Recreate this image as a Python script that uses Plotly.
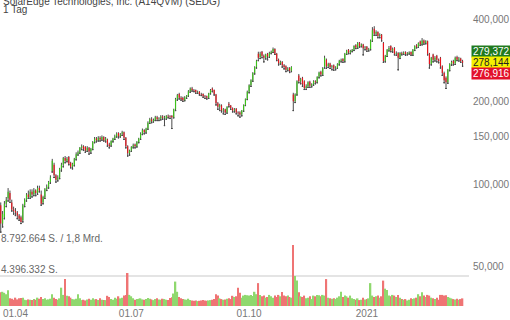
import math
import plotly.graph_objects as go

title_text = "SolarEdge Technologies, Inc. (A14QVM) (SEDG)"
period_text = "1 Tag"

# Daily OHLC in thousands
open_k = [84, 72, 76, 85, 89, 93, 86, 81, 80, 79, 77, 76, 74, 84, 88, 92, 90, 94, 92, 95,
          93, 97, 92, 86, 90, 96, 98, 102, 112, 118, 108, 104, 106, 114, 118, 125, 122, 126, 120, 116,
          118, 124, 129, 131, 136, 138, 137, 133, 136, 132, 135, 143, 147, 145, 148, 146, 149, 145, 146, 140,
          139, 144, 147, 150, 154, 150, 153, 155, 148, 138, 130, 133, 137, 140, 138, 143, 147, 153, 158, 155,
          160, 168, 173, 170, 172, 176, 173, 174, 177, 175, 174, 178, 177, 178, 176, 188, 205, 214, 207, 207,
          203, 208, 211, 219, 224, 221, 221, 217, 218, 214, 214, 210, 210, 207, 215, 224, 221, 213, 198, 192,
          194, 186, 188, 183, 197, 194, 190, 186, 189, 183, 183, 180, 186, 195, 205, 218, 230, 240, 255, 268,
          300, 292, 305, 295, 290, 300, 293, 302, 305, 312, 300, 285, 277, 280, 272, 270, 262, 266, 260, 213,
          201, 213, 250, 238, 245, 238, 225, 228, 237, 229, 232, 238, 236, 247, 258, 252, 268, 285, 270, 276,
          268, 272, 265, 267, 275, 283, 287, 282, 300, 310, 303, 307, 310, 322, 316, 329, 320, 324, 314, 318,
          310, 312, 335, 370, 355, 360, 348, 352, 328, 282, 295, 310, 320, 308, 315, 300, 302, 290, 302, 300,
          304, 299, 301, 304, 298, 310, 322, 318, 332, 325, 335, 328, 333, 300, 275, 298, 285, 295, 285, 290,
          270, 255, 245, 236, 262, 275, 282, 276, 292, 285, 288, 282]
high_k = [86, 80, 87, 90, 97, 95, 88, 83, 82, 80, 78, 77, 85, 89, 93, 95, 96, 96, 97, 96,
          99, 99, 95, 91, 97, 100, 103, 108, 124, 120, 109, 108, 115, 120, 126, 127, 126, 127, 121, 120,
          125, 131, 133, 137, 140, 139, 138, 138, 137, 136, 144, 149, 149, 150, 150, 151, 150, 149, 147, 142,
          145, 148, 152, 155, 155, 154, 157, 156, 149, 139, 134, 138, 141, 141, 144, 148, 155, 160, 159, 161,
          170, 175, 176, 174, 178, 178, 176, 179, 179, 178, 179, 180, 179, 179, 189, 207, 214, 216, 210, 209,
          210, 212, 221, 226, 227, 223, 222, 220, 219, 216, 215, 212, 211, 216, 223, 226, 222, 214, 200, 197,
          196, 190, 189, 193, 200, 195, 191, 190, 190, 185, 185, 187, 196, 206, 220, 232, 242, 257, 270, 285,
          305, 305, 307, 298, 300, 302, 305, 308, 316, 314, 302, 288, 283, 282, 275, 272, 268, 268, 270, 216,
          215, 240, 253, 245, 247, 240, 232, 238, 239, 234, 240, 240, 248, 258, 260, 268, 295, 288, 278, 278,
          273, 274, 270, 277, 285, 288, 289, 302, 310, 312, 310, 312, 322, 325, 331, 331, 327, 326, 320, 320,
          315, 338, 375, 378, 365, 362, 356, 354, 331, 297, 312, 320, 322, 316, 317, 306, 304, 304, 305, 306,
          306, 304, 306, 306, 312, 322, 325, 330, 335, 342, 338, 336, 335, 302, 292, 300, 294, 297, 288, 292,
          272, 258, 248, 264, 277, 283, 285, 293, 295, 292, 290, 285]
low_k = [67, 70, 75, 83, 87, 86, 80, 78, 77, 75, 74, 72, 73, 83, 87, 89, 89, 90, 91, 91,
         92, 94, 84, 85, 89, 95, 97, 101, 111, 106, 102, 103, 105, 112, 116, 120, 121, 118, 115, 114,
         117, 123, 128, 130, 134, 133, 131, 132, 129, 130, 134, 142, 143, 144, 144, 145, 144, 143, 138, 136,
         138, 143, 146, 149, 148, 149, 151, 146, 136, 127, 128, 132, 136, 136, 137, 142, 146, 152, 153, 154,
         159, 167, 168, 169, 171, 171, 171, 172, 173, 164, 173, 175, 174, 160, 175, 186, 203, 205, 203, 201,
         202, 206, 210, 217, 219, 218, 215, 215, 212, 211, 208, 206, 205, 206, 214, 218, 212, 195, 188, 186,
         184, 181, 180, 182, 192, 188, 184, 184, 181, 178, 176, 178, 185, 194, 204, 216, 228, 238, 253, 266,
         283, 288, 290, 280, 287, 285, 291, 300, 303, 298, 283, 273, 275, 268, 264, 258, 260, 256, 258, 186,
         199, 212, 235, 233, 228, 222, 222, 226, 226, 227, 230, 233, 235, 245, 249, 250, 266, 265, 267, 265,
         262, 261, 262, 265, 273, 280, 279, 280, 298, 300, 300, 305, 308, 313, 314, 317, 318, 297, 310, 306,
         307, 310, 333, 350, 350, 343, 343, 334, 279, 280, 293, 307, 305, 304, 297, 296, 262, 288, 297, 298,
         296, 297, 299, 296, 296, 308, 315, 316, 322, 323, 325, 326, 297, 266, 273, 280, 282, 280, 278, 266,
         250, 235, 224, 234, 260, 272, 273, 274, 283, 282, 279, 270]
close_k = [72, 78, 85, 88, 94, 88, 81, 80, 79, 77, 75, 73, 84, 88, 92, 90, 94, 92, 95, 93,
           97, 95, 85, 90, 96, 98, 102, 106, 122, 108, 104, 106, 114, 118, 125, 122, 124, 119, 116, 119,
           124, 129, 131, 136, 138, 135, 133, 136, 132, 135, 143, 147, 145, 148, 146, 149, 145, 147, 140, 138,
           144, 147, 150, 153, 150, 152, 155, 148, 138, 130, 133, 137, 139, 138, 143, 147, 153, 158, 155, 160,
           168, 173, 170, 172, 176, 173, 174, 177, 175, 176, 178, 177, 176, 176, 188, 205, 212, 207, 205, 203,
           208, 211, 219, 224, 221, 220, 217, 218, 214, 213, 210, 209, 207, 215, 221, 220, 214, 198, 192, 195,
           186, 188, 183, 192, 194, 190, 186, 188, 183, 182, 180, 186, 195, 205, 218, 230, 240, 255, 268, 283,
           290, 300, 295, 290, 298, 293, 302, 305, 312, 300, 285, 277, 280, 272, 268, 262, 265, 260, 268, 201,
           213, 238, 238, 242, 232, 225, 228, 236, 229, 232, 238, 236, 247, 256, 252, 266, 290, 270, 275, 268,
           270, 265, 267, 275, 283, 285, 282, 300, 308, 303, 307, 310, 320, 316, 328, 320, 324, 314, 316, 310,
           312, 335, 365, 355, 360, 348, 352, 338, 282, 295, 310, 315, 308, 312, 300, 302, 290, 302, 300, 303,
           299, 301, 303, 298, 310, 320, 318, 328, 325, 335, 328, 333, 300, 275, 290, 285, 290, 285, 282, 270,
           255, 240, 236, 262, 275, 280, 276, 290, 285, 288, 282, 278.144]
# Daily volume in millions of shares
volume_m = [1.98, 2.05, 1.90, 1.70, 2.27, 1.10, 1.05, 0.90, 1.20, 0.95, 1.10, 1.17, 1.20, 0.90, 0.85, 0.95, 0.90, 0.88, 1.00, 0.90,
            1.20, 1.05, 1.30, 1.00, 1.10, 0.90, 0.95, 1.05, 1.70, 1.20, 1.00, 0.90, 1.10, 2.64, 1.60, 3.88, 1.47, 1.40, 1.20, 1.00,
            0.95, 1.05, 1.68, 1.10, 0.85, 0.90, 0.80, 0.95, 1.05, 0.90, 1.10, 0.95, 1.00, 0.85, 1.10, 0.90, 0.88, 0.85, 1.47, 1.30,
            1.00, 0.90, 1.20, 1.05, 1.40, 1.10, 1.20, 1.50, 1.60, 4.76, 1.60, 1.40, 1.10, 0.90, 1.00, 1.05, 1.10, 0.95, 0.90, 1.00,
            1.15, 1.05, 0.95, 0.85, 1.00, 1.10, 0.95, 0.90, 1.05, 1.00, 0.90, 0.85, 1.17, 1.25, 1.80, 3.52, 2.05, 1.30, 1.10, 1.00,
            0.95, 0.90, 1.05, 0.85, 0.80, 0.75, 0.80, 0.70, 0.75, 0.80, 0.85, 0.80, 0.75, 0.80, 0.85, 0.90, 1.00, 1.68, 1.50, 1.10,
            1.00, 0.90, 0.95, 1.05, 1.10, 1.00, 1.47, 1.30, 1.40, 2.64, 1.90, 1.20, 1.50, 1.60, 1.55, 1.50, 1.60, 1.45, 2.05, 1.70,
            3.30, 1.60, 1.40, 1.50, 1.20, 1.30, 1.60, 1.40, 1.20, 1.50, 1.30, 1.60, 1.40, 2.00, 1.50, 1.40, 1.50, 1.30, 1.20, 8.792664,
            4.32, 3.66, 1.98, 1.40, 1.30, 1.50, 1.10, 1.20, 1.40, 1.00, 1.50, 1.40, 1.60, 1.55, 1.40, 1.60, 1.50, 3.88, 1.20, 1.10,
            1.05, 1.10, 1.00, 1.20, 1.40, 2.05, 1.30, 1.50, 1.40, 1.20, 1.50, 1.10, 1.00, 0.90, 1.10, 0.85, 0.90, 1.20, 0.95, 1.00,
            1.10, 3.30, 1.50, 1.30, 1.40, 1.50, 1.20, 1.40, 3.66, 2.50, 2.30, 1.50, 1.40, 1.60, 1.50, 1.30, 1.60, 1.20, 1.00, 0.90,
            1.00, 0.80, 0.90, 1.10, 1.00, 1.10, 1.20, 1.70, 1.40, 1.98, 1.50, 1.30, 1.60, 1.50, 1.20, 1.10, 1.00, 1.20, 0.90, 1.60,
            1.60, 1.50, 1.55, 1.30, 1.20, 1.10, 1.00, 0.95, 1.05, 0.90, 1.00, 1.10]

tick_pos = [8, 71, 135, 199]
tick_text = ["01.04", "01.07", "01.10", "2021"]
price_ticks = [50000, 100000, 150000, 200000, 400000]
price_tick_text = ["50,000", "100,000", "150,000", "200,000", "400,000"]
quote_vals = [279372, 278144, 276916]
quote_text = ["279,372", "278,144", "276,916"]
vol_grid = [4396332, 8792664]
vol_labels = ["4.396.332 S.", "8.792.664 S. / 1,8 Mrd."]

GREEN = "#3cc21a"
RED = "#e8141c"
VGREEN = "#8fd86e"
VRED = "#ef7474"
WICK = "#4a4a4a"

n = len(close_k)
xs = list(range(n))
O = [v * 1000 for v in open_k]
H = [v * 1000 for v in high_k]
L = [v * 1000 for v in low_k]
C = [v * 1000 for v in close_k]
V = [v * 1e6 for v in volume_m]

vcol = [VGREEN if C[i] >= O[i] else VRED for i in range(n)]

fig = go.Figure()
# wicks: a candlestick whose body collapses onto the low
fig.add_trace(go.Candlestick(x=xs, open=L, high=H, low=L, close=L,
                             increasing=dict(fillcolor=WICK, line=dict(color=WICK, width=1)),
                             decreasing=dict(fillcolor=WICK, line=dict(color=WICK, width=1)),
                             yaxis="y", xaxis="x", hoverinfo="skip"))
# bodies on top
fig.add_trace(go.Candlestick(x=xs, open=O, high=H, low=L, close=C,
                             increasing=dict(fillcolor=GREEN, line=dict(color=GREEN, width=0)),
                             decreasing=dict(fillcolor=RED, line=dict(color=RED, width=0)),
                             yaxis="y", xaxis="x"))
fig.add_trace(go.Bar(x=xs, y=V, marker=dict(color=vcol, line=dict(width=0)), width=0.8,
                     yaxis="y2", xaxis="x"))

fig.update_layout(
    width=510, height=320,
    margin=dict(l=0, r=41, t=0, b=14),
    paper_bgcolor="white", plot_bgcolor="white",
    showlegend=False,
    boxgap=0.1,
    font=dict(family="Liberation Sans, Arial, sans-serif", size=10, color="#777"),
    xaxis=dict(range=[-0.4, 254.5], tickvals=tick_pos, ticktext=tick_text,
               showgrid=False, zeroline=False, showline=False, ticks="",
               rangeslider=dict(visible=False), tickfont=dict(size=10, color="#777"),
               fixedrange=True),
    yaxis=dict(type="log", range=[4.5566, 5.673], domain=[0, 1], side="right",
               tickvals=price_ticks, ticktext=price_tick_text, showgrid=False,
               zeroline=False, ticks="", tickfont=dict(size=10, color="#777"),
               ticklabelstandoff=3),
    yaxis2=dict(domain=[0, 0.1993], range=[0, 8792664], anchor="x", side="right",
                tickvals=vol_grid, showticklabels=False, showgrid=True,
                gridcolor="#e4e4e4", gridwidth=1.5, zeroline=False),
)

ann = []
ann.append(dict(xref="paper", yref="paper", x=0, y=1, xanchor="left", yanchor="middle",
                yshift=-1, xshift=1, text=title_text, showarrow=False,
                font=dict(size=10, color="#444")))
ann.append(dict(xref="paper", yref="paper", x=0, y=1, xanchor="left", yanchor="middle",
                yshift=-9.5, xshift=1, text=period_text, showarrow=False,
                font=dict(size=10, color="#444")))
for val, lab in zip(vol_grid, vol_labels):
    ann.append(dict(xref="paper", yref="y2", x=0, y=val, xanchor="left", yanchor="bottom",
                    text=lab, showarrow=False, borderpad=0,
                    font=dict(size=10, color="#666")))
box_cols = ["#217a1f", "#f5f000", "#e3112b"]
box_txt = ["white", "#222", "white"]
shifts = [11, 0, -11]
for val, lab, bc, tc, sh in zip(quote_vals, quote_text, box_cols, box_txt, shifts):
    ann.append(dict(xref="paper", yref="y", x=1, y=math.log10(quote_vals[1]), xanchor="left",
                    yanchor="middle", xshift=2, yshift=sh, text=lab, showarrow=False,
                    bgcolor=bc, borderpad=1, width=37, height=9, align="left",
                    font=dict(size=10, color=tc)))
fig.update_layout(annotations=ann)

fig.write_html("out.html")
